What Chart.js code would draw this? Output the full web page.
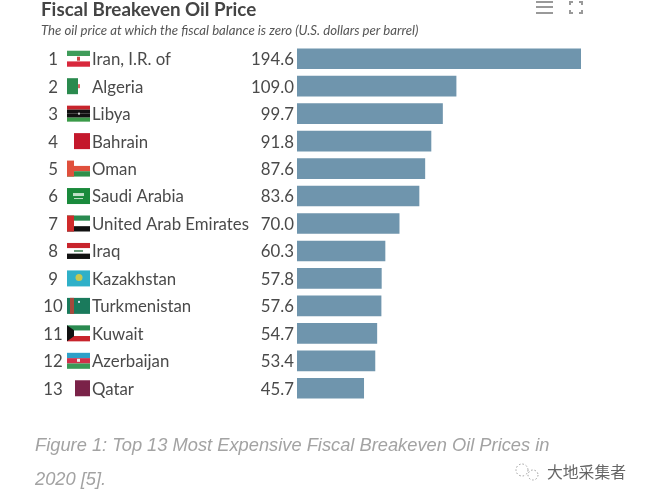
<!DOCTYPE html>
<html>
<head>
<meta charset="utf-8">
<script src="https://cdn.jsdelivr.net/npm/chart.js@4"></script>
<style>
html, body { margin: 0; padding: 0; background: #fff; }
#wrap { position: relative; width: 647px; height: 500px; overflow: hidden; filter: blur(0.4px); }
#chart { position: absolute; left: 0; top: 0; }
.txt { position: absolute; white-space: nowrap; }
#title { left: 41px; top: -3px; font: bold 18.8px Lato, sans-serif; color: #444; }
#subtitle { left: 41px; top: 22px; font: italic 13.2px Lato, sans-serif; color: #555; }
#caption { left: 35px; top: 428px; font: italic 18.3px/34px "Liberation Sans", sans-serif; color: #a3a3a3; }
#mark { left: 547px; top: 460px; font: 15.8px "Noto Sans CJK SC", sans-serif; color: #666; }
</style>
</head>
<body>
<div id="wrap">
  <canvas id="chart" width="647" height="500"></canvas>
  <div class="txt" id="title">Fiscal Breakeven Oil Price</div>
  <div class="txt" id="subtitle">The oil price at which the fiscal balance is zero (U.S. dollars per barrel)</div>
  <div class="txt" id="caption">Figure 1: Top 13 Most Expensive Fiscal Breakeven Oil Prices in<br>2020 [5].</div>
  <div class="txt" id="mark">大地采集者</div>
</div>
<script>
const countries = ["Iran, I.R. of", "Algeria", "Libya", "Bahrain", "Oman", "Saudi Arabia", "United Arab Emirates", "Iraq", "Kazakhstan", "Turkmenistan", "Kuwait", "Azerbaijan", "Qatar"];
const prices = [194.6, 109.0, 99.7, 91.8, 87.6, 83.6, 70.0, 60.3, 57.8, 57.6, 54.7, 53.4, 45.7];

// flag painters, w/h is the flag box, x/y its top left corner
function stripes(ctx, x, y, w, h, colors) {
    let sh = h / colors.length;
    colors.forEach(function(c, i){
        ctx.fillStyle = c;
        ctx.fillRect(x, y + i * sh, w, sh);
    });
}
const flags = {
    "Iran, I.R. of": function(ctx, x, y, w, h){
        stripes(ctx, x, y, w, h, ["#3f9c5a", "#fff", "#d8283c"]);
        ctx.fillStyle = "#c44"; ctx.fillRect(x + 10, y + 6, 3, 4);
    },
    "Algeria": function(ctx, x, y, w, h){
        ctx.fillStyle = "#2a8a4e"; ctx.fillRect(x, y, 11, h);
        ctx.fillStyle = "#d66"; ctx.fillRect(x + 11, y + 6, 2, 4);
    },
    "Libya": function(ctx, x, y, w, h){
        stripes(ctx, x, y, w, h, ["#c8242c", "#111", "#111", "#3a9a48"]);
        ctx.fillStyle = "#ccc"; ctx.fillRect(x + 11, y + 7, 2, 2);
    },
    "Bahrain": function(ctx, x, y, w, h){
        ctx.fillStyle = "#c4182c"; ctx.fillRect(x + 7, y, w - 7, h);
    },
    "Oman": function(ctx, x, y, w, h){
        stripes(ctx, x, y, w, h, ["#fff", "#e0503c", "#2f8f4a"]);
        ctx.fillStyle = "#e0503c"; ctx.fillRect(x, y, 7, h);
    },
    "Saudi Arabia": function(ctx, x, y, w, h){
        ctx.fillStyle = "#1a8a3c"; ctx.fillRect(x, y, w, h);
        ctx.fillStyle = "#bfe0c8"; ctx.fillRect(x + 6, y + 5, 11, 3);
        ctx.fillRect(x + 7, y + 10, 9, 1);
    },
    "United Arab Emirates": function(ctx, x, y, w, h){
        stripes(ctx, x, y, w, h, ["#2a8a50", "#fff", "#111"]);
        ctx.fillStyle = "#d02a2a"; ctx.fillRect(x, y, 7, h);
    },
    "Iraq": function(ctx, x, y, w, h){
        stripes(ctx, x, y, w, h, ["#c8242c", "#fff", "#111"]);
        ctx.fillStyle = "#6a9a78"; ctx.fillRect(x + 7, y + 7, 9, 2);
    },
    "Kazakhstan": function(ctx, x, y, w, h){
        ctx.fillStyle = "#2fb0c8"; ctx.fillRect(x, y, w, h);
        ctx.fillStyle = "#c8c850";
        ctx.beginPath(); ctx.arc(x + 12, y + 7, 3.5, 0, Math.PI * 2); ctx.fill();
    },
    "Turkmenistan": function(ctx, x, y, w, h){
        ctx.fillStyle = "#1a7a5c"; ctx.fillRect(x, y, w, h);
        ctx.fillStyle = "#a8483c"; ctx.fillRect(x + 3, y, 4, h);
        ctx.fillStyle = "#cde"; ctx.fillRect(x + 11, y + 3, 2, 2);
    },
    "Kuwait": function(ctx, x, y, w, h){
        stripes(ctx, x, y, w, h, ["#2a8a50", "#fff", "#c8242c"]);
        ctx.fillStyle = "#111";
        ctx.beginPath(); ctx.moveTo(x, y); ctx.lineTo(x + 7, y + 5); ctx.lineTo(x + 7, y + h - 5);
        ctx.lineTo(x, y + h); ctx.fill();
    },
    "Azerbaijan": function(ctx, x, y, w, h){
        stripes(ctx, x, y, w, h, ["#2ea0c8", "#d0304a", "#3a9a58"]);
        ctx.fillStyle = "#eee"; ctx.fillRect(x + 10, y + 6, 3, 3);
    },
    "Qatar": function(ctx, x, y, w, h){
        ctx.fillStyle = "#7a2248"; ctx.fillRect(x + 8, y, w - 8, h);
    }
};

// rank, flag, name and value beside each bar, plus the menu icons on top
const rowLabels = {
    id: "rowLabels",
    afterDatasetsDraw: function(chart){
        const ctx = chart.ctx;
        const yScale = chart.scales.y;
        ctx.save();
        ctx.font = "16.8px Lato, sans-serif";
        ctx.textBaseline = "middle";
        countries.forEach(function(name, i){
            let yc = yScale.getPixelForValue(i);
            ctx.fillStyle = "#4a4a4a";
            ctx.textAlign = "center";
            ctx.fillText(String(i + 1), 53, yc + 1);
            ctx.textAlign = "left";
            ctx.fillText(name, 92, yc + 1);
            ctx.textAlign = "right";
            ctx.fillText(prices[i].toFixed(1), 294, yc + 1);
            flags[name](ctx, 67, yc - 8, 23, 16);
        });
        ctx.fillStyle = "#999";
        ctx.fillRect(536, 1, 17, 2);
        ctx.fillRect(536, 6, 17, 2);
        ctx.fillRect(536, 12, 17, 2);
        ctx.fillRect(569, 1, 4, 2); ctx.fillRect(579, 1, 4, 2);
        ctx.fillRect(569, 12, 4, 2); ctx.fillRect(579, 12, 4, 2);
        ctx.fillRect(569, 1, 2, 4); ctx.fillRect(581, 1, 2, 4);
        ctx.fillRect(569, 10, 2, 4); ctx.fillRect(581, 10, 2, 4);
        // watermark bubbles
        ctx.strokeStyle = "#999";
        ctx.setLineDash([1.5, 2]);
        ctx.beginPath(); ctx.arc(522, 470, 6, 0, Math.PI * 2); ctx.stroke();
        ctx.beginPath(); ctx.arc(533, 475, 5, 0, Math.PI * 2); ctx.stroke();
        ctx.restore();
    }
};

new Chart(document.getElementById("chart"), {
    type: "bar",
    data: {
        labels: countries,
        datasets: [{
            data: prices,
            backgroundColor: "#6f95ad",
            barThickness: 20,
            borderWidth: 0
        }]
    },
    options: {
        indexAxis: "y",
        responsive: false,
        animation: false,
        layout: { padding: { left: 297, right: 66, top: 45, bottom: 98 } },
        plugins: { legend: { display: false }, tooltip: { enabled: false } },
        scales: {
            x: { display: false, min: 0, max: 194.6 },
            y: { display: false }
        }
    },
    plugins: [rowLabels]
});
</script>
</body>
</html>
